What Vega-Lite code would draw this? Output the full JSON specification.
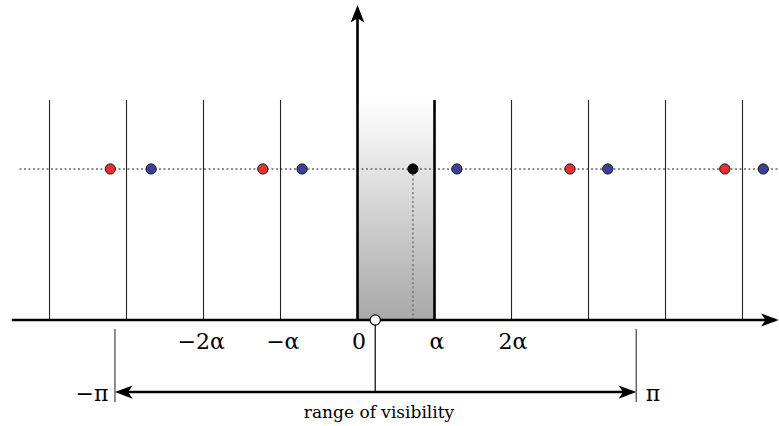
{
  "$schema": "https://vega.github.io/schema/vega-lite/v6.json",
  "width": 779,
  "height": 426,
  "autosize": {"type": "none"},
  "padding": 0,
  "background": "white",
  "config": {"view": {"stroke": null}},
  "encoding": {
    "x": {"field": "x", "type": "quantitative", "scale": {"domain": [-4.643, 5.474], "nice": false, "zero": false}, "axis": null},
    "y": {"field": "y", "type": "quantitative", "scale": {"domain": [-0.702, 2.119], "nice": false, "zero": false}, "axis": null}
  },
  "layer": [
    {
      "data": {"values": [{"x": 0, "x2": 1, "y": 0, "y2": 1.457}]},
      "mark": {"type": "rect", "fill": {"gradient": "linear", "x1": 0, "y1": 0, "x2": 0, "y2": 1, "stops": [{"offset": 0, "color": "#ffffff"}, {"offset": 1, "color": "#a8a8a8"}]}},
      "encoding": {"x2": {"field": "x2"}, "y2": {"field": "y2"}}
    },
    {
      "data": {"values": [{"x": -4.39, "x2": 5.474, "y": 1}]},
      "mark": {"type": "rule", "stroke": "#6a6a6a", "strokeWidth": 1.3, "strokeDash": [2, 2.5]},
      "encoding": {"x2": {"field": "x2"}}
    },
    {
      "data": {"values": [{"x": 0.72, "y": 0, "y2": 1}]},
      "mark": {"type": "rule", "stroke": "#6a6a6a", "strokeWidth": 1.3, "strokeDash": [2, 2.5]},
      "encoding": {"y2": {"field": "y2"}}
    },
    {
      "data": {"values": [
        {"x": -4, "y": 0, "y2": 1.457},
        {"x": -3, "y": 0, "y2": 1.457},
        {"x": -2, "y": 0, "y2": 1.457},
        {"x": -1, "y": 0, "y2": 1.457},
        {"x": 2, "y": 0, "y2": 1.457},
        {"x": 3, "y": 0, "y2": 1.457},
        {"x": 4, "y": 0, "y2": 1.457},
        {"x": 5, "y": 0, "y2": 1.457}
      ]},
      "mark": {"type": "rule", "stroke": "#222222", "strokeWidth": 1.1},
      "encoding": {"y2": {"field": "y2"}}
    },
    {
      "data": {"values": [
        {"x": 1, "y": 0, "y2": 1.457},
        {"x": 0, "y": 0, "y2": 2.05}
      ]},
      "mark": {"type": "rule", "stroke": "#000000", "strokeWidth": 2.6},
      "encoding": {"y2": {"field": "y2"}}
    },
    {
      "data": {"values": [
        {"x": -4.49, "x2": 5.43, "y": 0},
        {"x": -3.02, "x2": 3.49, "y": -0.477}
      ]},
      "mark": {"type": "rule", "stroke": "#000000", "strokeWidth": 2.6},
      "encoding": {"x2": {"field": "x2"}}
    },
    {
      "data": {"values": [
        {"x": -3.15, "y": -0.06, "y2": -0.543},
        {"x": 3.62, "y": -0.06, "y2": -0.543}
      ]},
      "mark": {"type": "rule", "stroke": "#444444", "strokeWidth": 1.2},
      "encoding": {"y2": {"field": "y2"}}
    },
    {
      "data": {"values": [{"x": 0.23, "y": 0, "y2": -0.477}]},
      "mark": {"type": "rule", "stroke": "#000000", "strokeWidth": 1.2},
      "encoding": {"y2": {"field": "y2"}}
    },
    {
      "data": {"values": [
        {"x": 0, "y": 2.086, "dir": "up"},
        {"x": 5.47, "y": 0, "dir": "right"},
        {"x": -3.15, "y": -0.477, "dir": "left"},
        {"x": 3.62, "y": -0.477, "dir": "right"}
      ]},
      "mark": {"type": "point", "filled": true, "size": 310, "color": "#000000", "opacity": 1, "strokeWidth": 0},
      "encoding": {
        "shape": {"field": "dir", "type": "nominal", "legend": null, "scale": {"domain": ["up", "right", "left"], "range": ["M0,0 L-0.78,2 L0,1.5 L0.78,2 Z", "M0,0 L-2,-0.75 L-1.5,0 L-2,0.75 Z", "M0,0 L2,-0.75 L1.5,0 L2,0.75 Z"]}}
      }
    },
    {
      "data": {"values": [
        {"x": -3.21, "y": 1, "image": "left alias"},
        {"x": -1.23, "y": 1, "image": "left alias"},
        {"x": 2.76, "y": 1, "image": "left alias"},
        {"x": 4.77, "y": 1, "image": "left alias"},
        {"x": -2.68, "y": 1, "image": "right alias"},
        {"x": -0.72, "y": 1, "image": "right alias"},
        {"x": 1.29, "y": 1, "image": "right alias"},
        {"x": 3.25, "y": 1, "image": "right alias"},
        {"x": 5.27, "y": 1, "image": "right alias"},
        {"x": 0.72, "y": 1, "image": "true"}
      ]},
      "mark": {"type": "circle", "size": 105, "stroke": "#1a1a1a", "strokeWidth": 1, "opacity": 1},
      "encoding": {
        "color": {"field": "image", "type": "nominal", "legend": null, "scale": {"domain": ["left alias", "right alias", "true"], "range": ["#e33232", "#3c4096", "#000000"]}}
      }
    },
    {
      "data": {"values": [{"x": 0.23, "y": 0}]},
      "mark": {"type": "circle", "size": 105, "fill": "#ffffff", "stroke": "#000000", "strokeWidth": 1.2, "opacity": 1}
    },
    {
      "data": {"values": [
        {"x": -2.03, "y": -0.192, "label": "−2α"},
        {"x": -0.97, "y": -0.192, "label": "−α"},
        {"x": 0.02, "y": -0.192, "label": "0"},
        {"x": 1.03, "y": -0.192, "label": "α"},
        {"x": 2.02, "y": -0.192, "label": "2α"},
        {"x": -3.448, "y": -0.536, "label": "−π"},
        {"x": 3.838, "y": -0.536, "label": "π"}
      ]},
      "mark": {"type": "text", "font": "DejaVu Serif", "fontSize": 22, "align": "center", "baseline": "alphabetic", "color": "#000000"},
      "encoding": {"text": {"field": "label"}}
    },
    {
      "data": {"values": [{"x": 0.279, "y": -0.649, "label": "range of visibility"}]},
      "mark": {"type": "text", "font": "DejaVu Serif", "fontSize": 17, "align": "center", "baseline": "alphabetic", "color": "#000000"},
      "encoding": {"text": {"field": "label"}}
    }
  ]
}
